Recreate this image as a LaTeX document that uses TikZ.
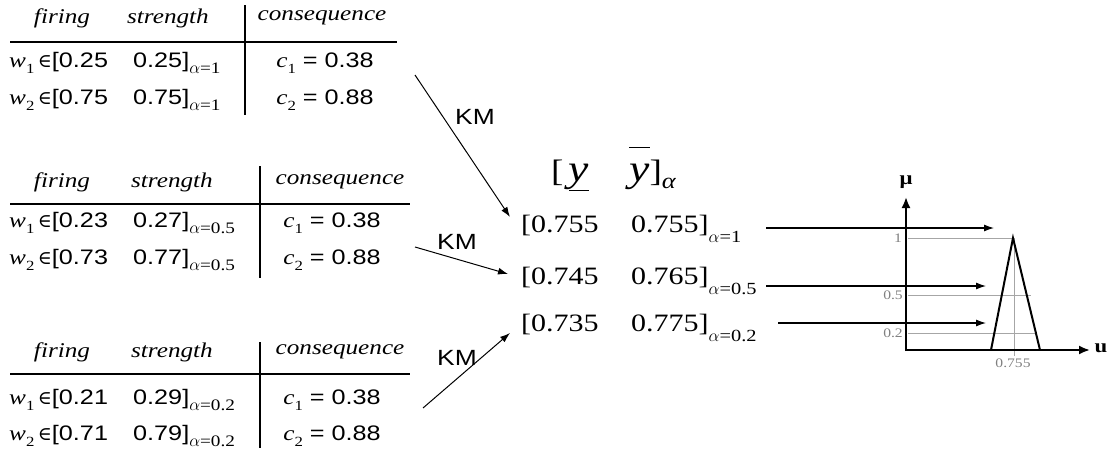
\documentclass[tikz,border=0pt]{standalone}
\usepackage{fontspec}
\setmainfont{Liberation Sans}
\newfontfamily\tnr[FakeStretch=1.2]{Liberation Serif}
\newfontfamily\arl[FakeStretch=1.2]{Liberation Sans}
\newfontfamily\djv{DejaVu Serif}
\usetikzlibrary{arrows.meta}
\newcommand\wv[1]{{\tnr\itshape w}\raisebox{-0.3em}{\tnr\fontsize{14}{15}\selectfont #1}}
\newcommand\cv[1]{{\tnr\itshape c}\raisebox{-0.3em}{\tnr\fontsize{14}{15}\selectfont #1}}
\newcommand\elt{\,{\djv\fontsize{19}{20}\selectfont ∈}}
\newcommand\sub[1]{\raisebox{-0.3em}{\tnr\fontsize{16}{17}\selectfont #1}}
\tikzset{
  hdr/.style={font=\tnr\itshape\fontsize{21}{24}\selectfont, inner sep=0pt},
  row/.style={font=\arl\fontsize{21}{24}\selectfont, inner sep=0pt, anchor=base west},
  cons/.style={font=\arl\fontsize{21}{24}\selectfont, inner sep=0pt, anchor=base},
  rule/.style={line width=1.1pt},
  mid/.style={font=\tnr\fontsize{25}{28}\selectfont, inner sep=0pt, anchor=west},
  km/.style={font=\arl\fontsize{22}{24}\selectfont, inner sep=0pt},
  kmarrow/.style={line width=1pt, -{Latex[length=10pt,width=7pt]}},
  outarrow/.style={line width=1.1pt, -{Latex[length=10pt,width=7pt]}},
  axis/.style={line width=2pt, -{Latex[length=11pt,width=9pt]}},
  guide/.style={gray!70, line width=0.8pt},
  tick/.style={text=gray, font=\tnr\fontsize{13}{14}\selectfont, inner sep=0pt},
}
\begin{document}
\begin{tikzpicture}[x=1pt,y=-1pt]
\useasboundingbox (0,0) rectangle (1112,455);
% ---------- table 1 ----------
\node[hdr] (t1f) at (62,18) {firing};
\node[hdr] (t1s) at (168,18) {strength};
\node[hdr] (t1c) at (322,18) {consequence};
\draw[rule] (10,42) -- (397,42);
\draw[rule] (245,5) -- (245,115);
\node[row] (t1r1) at (9,67) {\wv{1}\elt[0.25\hspace{1.2em}0.25]\sub{$\alpha$=1}};
\node[row] (t1r2) at (9,104) {\wv{2}\elt[0.75\hspace{1.2em}0.75]\sub{$\alpha$=1}};
\node[cons] (t1c1) at (325,67) {\cv{1} = 0.38};
\node[cons] (t1c2) at (325,104) {\cv{2} = 0.88};
% ---------- table 2 ----------
\node[hdr] (t2f) at (62,182) {firing};
\node[hdr] (t2s) at (172,182) {strength};
\node[hdr] (t2c) at (340,182) {consequence};
\draw[rule] (10,204) -- (410,204);
\draw[rule] (260,166) -- (260,278);
\node[row] (t2r1) at (9,227) {\wv{1}\elt[0.23\hspace{1.2em}0.27]\sub{$\alpha$=0.5}};
\node[row] (t2r2) at (9,264) {\wv{2}\elt[0.73\hspace{1.2em}0.77]\sub{$\alpha$=0.5}};
\node[cons] (t2c1) at (332,227) {\cv{1} = 0.38};
\node[cons] (t2c2) at (332,264) {\cv{2} = 0.88};
% ---------- table 3 ----------
\node[hdr] (t3f) at (62,352) {firing};
\node[hdr] (t3s) at (172,352) {strength};
\node[hdr] (t3c) at (340,352) {consequence};
\draw[rule] (10,374) -- (410,374);
\draw[rule] (260,342) -- (260,448);
\node[row] (t3r1) at (9,404) {\wv{1}\elt[0.21\hspace{1.2em}0.29]\sub{$\alpha$=0.2}};
\node[row] (t3r2) at (9,440) {\wv{2}\elt[0.71\hspace{1.2em}0.79]\sub{$\alpha$=0.2}};
\node[cons] (t3c1) at (332,404) {\cv{1} = 0.38};
\node[cons] (t3c2) at (332,440) {\cv{2} = 0.88};
% ---------- middle ----------
\node[font=\tnr\fontsize{31}{32}\selectfont, inner sep=0pt, anchor=base west] (yy) at (551,181)
  {[\,\underline{\fontsize{38}{40}\selectfont\itshape y}\hspace{1.3em}$\overline{\mbox{\fontsize{38}{40}\selectfont\itshape y}\rule{0pt}{1.05em}}$]\raisebox{-0.25em}{\fontsize{22}{22}\selectfont\itshape α}};
\node[mid] (m1) at (521,229) {[0.755\hspace{1.3em}0.755]\raisebox{-0.4em}{\fontsize{17}{18}\selectfont $\alpha$=1}};
\node[mid] (m2) at (521,281) {[0.745\hspace{1.3em}0.765]\raisebox{-0.4em}{\fontsize{17}{18}\selectfont $\alpha$=0.5}};
\node[mid] (m3) at (521,328) {[0.735\hspace{1.3em}0.775]\raisebox{-0.4em}{\fontsize{17}{18}\selectfont $\alpha$=0.2}};
% ---------- KM arrows ----------
\coordinate (k1s) at (415,75);  \coordinate (k1e) at (510,217);
\coordinate (k2s) at (415,247); \coordinate (k2e) at (508,274);
\coordinate (k3s) at (423,408); \coordinate (k3e) at (510,333);
\draw[kmarrow] (k1s) -- (k1e);
\draw[kmarrow] (k2s) -- (k2e);
\draw[kmarrow] (k3s) -- (k3e);
\node[km] (km1) at (475,117) {KM};
\node[km] (km2) at (457,242) {KM};
\node[km] (km3) at (457,358) {KM};
% ---------- graph ----------
\coordinate (ytop) at (906,197);
\coordinate (xend) at (1090,350);
\coordinate (apex) at (1013,238);
\coordinate (bl) at (991,350);
\coordinate (br) at (1040,350);
\draw[guide] (908,238) -- (apex);
\draw[guide] (908,295) -- (1031,295);
\draw[guide] (908,333) -- (1037,333);
\draw[guide] (1014,238) -- (1014,356);
\draw[line width=2pt, line join=miter] (bl) -- (apex) -- (br);
\draw[axis] (906,351) -- (ytop);
\draw[axis] (905,350) -- (xend);
\node[font=\tnr\bfseries\fontsize{19}{20}\selectfont, inner sep=0pt] (mu) at (906,182) {μ};
\node[font=\tnr\bfseries\fontsize{19}{20}\selectfont, inner sep=0pt] (u) at (1101,348) {u};
\node[tick] (l1) at (898,238) {1};
\node[tick] (l05) at (893,295) {0.5};
\node[tick] (l02) at (893,333) {0.2};
\node[tick] (l755) at (1013,363) {0.755};
% ---------- output arrows ----------
\coordinate (o1s) at (766,228); \coordinate (o1e) at (994,228);
\coordinate (o2s) at (766,286); \coordinate (o2e) at (986,286);
\coordinate (o3s) at (778,323); \coordinate (o3e) at (986,323);
\draw[outarrow] (o1s) -- (o1e);
\draw[outarrow] (o2s) -- (o2e);
\draw[outarrow] (o3s) -- (o3e);
\end{tikzpicture}
\end{document}
